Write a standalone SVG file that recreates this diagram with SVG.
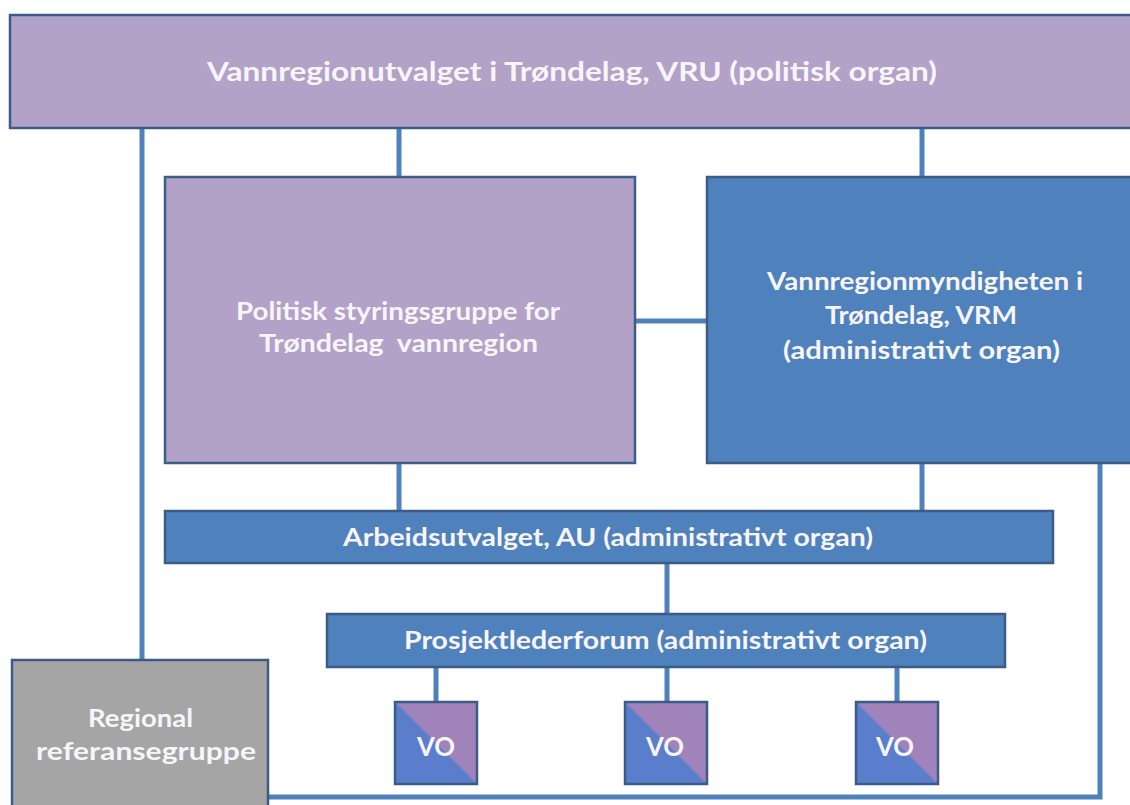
<svg xmlns="http://www.w3.org/2000/svg" width="1130" height="805" viewBox="0 0 1130 805">
  <style>
    .box { stroke: #3B5C86; stroke-width: 2.5; }
    .purple { fill: #B3A2C7; }
    .blue { fill: #4F81BD; }
    .gray { fill: #A5A5A5; }
    .conn { stroke: #4F81BD; stroke-width: 5; fill: none; }
    .t { font-family: Lato, "Open Sans", "Liberation Sans", sans-serif; font-weight: 700; fill: #F7F5FA; text-anchor: middle; }
    .big { font-size: 26.5px; }
    .mid { font-size: 24.5px; }
    .vo { font-size: 26px; }
  </style>
  <defs>
    <linearGradient id="voGrad" x1="0" y1="1" x2="1" y2="0">
      <stop offset="0" stop-color="#5A7ECB"/>
      <stop offset="0.49" stop-color="#5A7ECB"/>
      <stop offset="0.51" stop-color="#A083BA"/>
      <stop offset="1" stop-color="#A083BA"/>
    </linearGradient>
  </defs>
  <rect x="0" y="0" width="1130" height="805" fill="#FFFFFF"/>

  <g id="connectors">
    <line class="conn" x1="142" y1="128" x2="142" y2="660"/>
    <line class="conn" x1="399" y1="128" x2="399" y2="177"/>
    <line class="conn" x1="922" y1="128" x2="922" y2="177"/>
    <line class="conn" x1="635" y1="321" x2="707" y2="321"/>
    <line class="conn" x1="399" y1="463" x2="399" y2="511"/>
    <line class="conn" x1="922" y1="463" x2="922" y2="511"/>
    <line class="conn" x1="667" y1="563" x2="667" y2="614"/>
    <line class="conn" x1="436" y1="667" x2="436" y2="702"/>
    <line class="conn" x1="667" y1="667" x2="667" y2="702"/>
    <line class="conn" x1="897" y1="667" x2="897" y2="702"/>
    <path class="conn" d="M268 797 H1100 V463"/>
  </g>

  <g id="vru">
    <rect class="box purple" x="10" y="15" width="1135" height="113"/>
    <text class="t big" x="572" y="81" textLength="730" lengthAdjust="spacingAndGlyphs">Vannregionutvalget i Trøndelag, VRU (politisk organ)</text>
  </g>

  <g id="politisk">
    <rect class="box purple" x="165" y="177" width="470" height="286"/>
    <text class="t mid" x="398" y="320" textLength="324" lengthAdjust="spacingAndGlyphs">Politisk styringsgruppe for</text>
    <text class="t mid" x="398.5" y="352" textLength="279" lengthAdjust="spacingAndGlyphs" style="white-space: pre">Trøndelag  vannregion</text>
  </g>

  <g id="vrm">
    <rect class="box blue" x="707" y="177" width="440" height="286"/>
    <text class="t mid" x="925" y="290" textLength="316" lengthAdjust="spacingAndGlyphs">Vannregionmyndigheten i</text>
    <text class="t mid" x="921" y="324" textLength="192" lengthAdjust="spacingAndGlyphs">Trøndelag, VRM</text>
    <text class="t mid" x="921.5" y="359" textLength="277" lengthAdjust="spacingAndGlyphs">(administrativt organ)</text>
  </g>

  <g id="au">
    <rect class="box blue" x="165" y="511" width="888" height="52"/>
    <text class="t mid" x="608" y="546" textLength="530" lengthAdjust="spacingAndGlyphs">Arbeidsutvalget, AU (administrativt organ)</text>
  </g>

  <g id="prosjektlederforum">
    <rect class="box blue" x="327" y="614" width="678" height="53"/>
    <text class="t mid" x="665.5" y="649" textLength="523" lengthAdjust="spacingAndGlyphs">Prosjektlederforum (administrativt organ)</text>
  </g>

  <g id="referansegruppe">
    <rect class="box gray" x="12" y="660" width="256" height="160"/>
    <text class="t mid" x="140.5" y="727" textLength="105" lengthAdjust="spacingAndGlyphs">Regional</text>
    <text class="t mid" x="146" y="760" textLength="220" lengthAdjust="spacingAndGlyphs">referansegruppe</text>
  </g>

  <g id="vo1">
    <rect class="box" fill="url(#voGrad)" x="395" y="702" width="82" height="82"/>
    <text class="t vo" x="436" y="756" textLength="38" lengthAdjust="spacingAndGlyphs">VO</text>
  </g>
  <g id="vo2">
    <rect class="box" fill="url(#voGrad)" x="625" y="702" width="82" height="82"/>
    <text class="t vo" x="665" y="756" textLength="38" lengthAdjust="spacingAndGlyphs">VO</text>
  </g>
  <g id="vo3">
    <rect class="box" fill="url(#voGrad)" x="856" y="702" width="82" height="82"/>
    <text class="t vo" x="895" y="756" textLength="38" lengthAdjust="spacingAndGlyphs">VO</text>
  </g>
</svg>
